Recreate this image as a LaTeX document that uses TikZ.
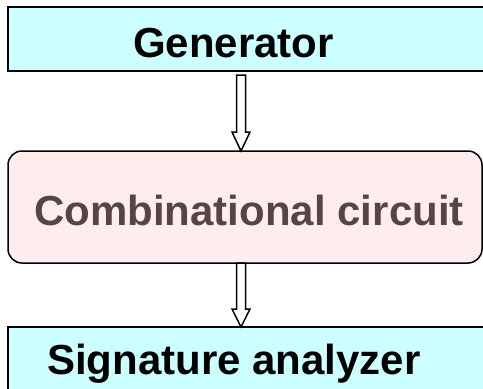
\documentclass[tikz,border=0pt]{standalone}
\usepackage{fontspec}
\setmainfont{Liberation Sans}
\usetikzlibrary{calc}
\definecolor{boxcyan}{HTML}{CCFFFF}
\definecolor{boxpink}{HTML}{FFECEC}
\definecolor{txtbrown}{HTML}{574545}
\tikzset{
  boxshape/.style={draw=black, line width=1.5pt, inner sep=0pt, outer sep=0pt, rectangle},
  label42/.style={inner sep=0pt, anchor=base, font=\fontsize{42}{50}\selectfont\bfseries},
  hollow/.style={draw=black, fill=white, line width=1.5pt, line join=miter}
}
\begin{document}
\begin{tikzpicture}[x=1pt,y=-1pt]
\useasboundingbox (0,0) rectangle (483,389);
\clip (0,0) rectangle (483,389);
\fill[white] (0,0) rectangle (483,389);
% boxes
\node[boxshape, fill=boxcyan, minimum width=487pt, minimum height=64pt] (gen) at (251.5,39) {};
\node[boxshape, fill=boxpink, rounded corners=14pt, minimum width=474pt, minimum height=112pt] (mid) at (245,207) {};
\node[boxshape, fill=boxcyan, minimum width=487pt, minimum height=73pt] (bot) at (251.5,363.5) {};
% texts
\node[label42, text=black] (gent) at (233.5,57) {Generator};
\node[label42, text=txtbrown] (midt) at (249,225) {Combinational circuit};
\node[label42, text=black, anchor=base west] (bott) at (47,374) {Signature analyzer};
% arrow 1
\coordinate (a1s) at ($(gen.south)+(-10.5,4)$);
\coordinate (a1e) at (mid.north -| a1s);
\draw[hollow] ($(a1s)+(-4.5,0)$) -- ($(a1s)+(4.5,0)$) -- ($(a1e)+(4.5,-19)$) -- ($(a1e)+(9,-19)$) -- (a1e) -- ($(a1e)+(-9,-19)$) -- ($(a1e)+(-4.5,-19)$) -- cycle;
% arrow 2
\coordinate (a2s) at (mid.south -| a1s);
\coordinate (a2e) at (bot.north -| a1s);
\draw[hollow] ($(a2s)+(-4.5,0)$) -- ($(a2s)+(4.5,0)$) -- ($(a2e)+(4.5,-18)$) -- ($(a2e)+(9,-18)$) -- (a2e) -- ($(a2e)+(-9,-18)$) -- ($(a2e)+(-4.5,-18)$) -- cycle;
\end{tikzpicture}
\end{document}
